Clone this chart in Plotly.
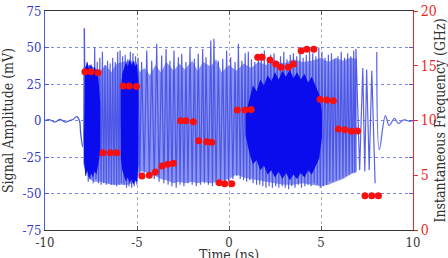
import plotly.graph_objects as go

# ---------------- data ----------------
# quiet signal before and after the burst (ns, mV)
pre_t = [-10.0, -9.73, -9.46, -9.18, -8.91, -8.64, -8.46, -8.28, -8.13, -8.06, -7.95, -7.86]
pre_v = [0.0, 0.5, -1.1, 0.7, -1.1, 0.0, 0.9, 2.7, 0.0, -9.0, -18.0, 63.0]
post_t = [8.03, 8.17, 8.5, 8.7, 9.0, 9.2, 9.5, 9.8, 10.0]
post_v = [47.0, -20.0, 3.4, -3.4, 1.4, -2.0, 0.5, -0.5, 0.0]

# spike tips of the burst: upper tips and the lower tip that follows each (ns, mV)
top_t = [-7.86, -7.72, -7.58, -7.45, -7.30, -7.16, -7.02, -6.88, -6.74, -6.60, -6.46,
         -6.32, -6.18, -6.05, -5.92, -5.78, -5.64, -5.50, -5.36, -5.22, -5.08, -4.94,
         -4.75, -4.47, -4.20, -3.93, -3.66, -3.42, -3.21, -2.99, -2.75, -2.57, -2.34,
         -2.12, -1.88, -1.67, -1.43, -1.25, -0.99, -0.82, -0.58, -0.34, -0.13, 0.09,
         0.33, 0.51, 0.70, 0.88, 1.05, 1.22, 1.40, 1.59, 1.75, 1.92, 2.10, 2.27, 2.45,
         2.62, 2.80, 2.98, 3.15, 3.33, 3.50, 3.68, 3.86, 4.03, 4.20, 4.38, 4.55, 4.72,
         4.88, 5.05, 5.22, 5.40, 5.57, 5.74, 5.92, 6.10, 6.28, 6.45, 6.62, 6.78, 6.90,
         7.27, 7.48, 7.76]
top_v = [63, 40, 38, 37, 50, 40, 43, 47, 38, 41, 39,
         43, 40, 47, 48, 44, 45, 42, 47, 46, 44, 43,
         40, 48, 41, 52.5, 44.5, 49, 41, 48, 43.4, 45.7, 40,
         50, 42.3, 45.7, 49, 43.4, 54.8, 56, 41, 42.3, 48, 43.4,
         40, 52.5, 41, 46, 47, 42, 40, 44, 46, 48, 43, 45, 46,
         41, 44, 47, 42, 45, 46, 44, 48, 43, 45, 48, 46, 44,
         50, 47, 43, 45, 46, 42, 44, 47, 43, 46, 44, 48, 49,
         36, 35, 34]
bot_t = [-7.78, -7.65, -7.52, -7.38, -7.23, -7.09, -6.95, -6.81, -6.67, -6.53, -6.39,
         -6.25, -6.11, -5.98, -5.85, -5.71, -5.57, -5.43, -5.29, -5.15, -5.01, -4.85,
         -4.61, -4.33, -4.06, -3.80, -3.54, -3.31, -3.10, -2.87, -2.66, -2.45, -2.23,
         -2.00, -1.78, -1.55, -1.34, -1.12, -0.90, -0.70, -0.46, -0.23, -0.02, 0.21,
         0.42, 0.61, 0.79, 0.96, 1.13, 1.31, 1.50, 1.67, 1.84, 2.01, 2.18, 2.36, 2.54,
         2.71, 2.89, 3.06, 3.24, 3.41, 3.59, 3.77, 3.94, 4.12, 4.29, 4.46, 4.63, 4.80,
         4.96, 5.13, 5.31, 5.48, 5.65, 5.83, 6.01, 6.19, 6.36, 6.53, 6.70, 6.84, 7.10,
         7.38, 7.62, 7.94]
bot_v = [-38, -42, -40, -43, -40, -43, -44, -43, -44, -43, -44,
         -44, -45, -44, -43, -44, -46, -45, -46, -45, -44, -38,
         -36, -37, -40, -42, -43, -44, -45, -46, -44, -45, -43,
         -44, -45, -44, -43, -44, -45, -44, -42, -43, -42, -40,
         -38, -40, -41, -42, -41, -43, -44, -44, -45, -46, -45, -46, -45,
         -46, -45, -46, -47, -45, -46, -44, -46, -45, -44, -45, -43, -44,
         -46, -45, -44, -42, -42, -41, -40, -39, -38, -37, -36, -36, -34,
         -35, -34, -43]

# light envelope of the burst (ns, mV)
env_t = [-7.92, -7.6, -7.3, -7.0, -6.7, -6.4, -6.1, -5.8, -5.5, -5.0, -4.85, -4.6, -4.3,
         -4.0, -3.7, -3.4, -3.0, -2.7, -2.4, -2.0, -1.7, -1.4, -1.0, -0.7, -0.4, 0.0,
         0.4, 0.8, 1.2, 1.6, 2.0, 2.5, 3.0, 3.5, 4.0, 4.5, 5.0, 5.4, 5.8, 6.2, 6.6, 6.95]
env_hi = [36, 38, 36, 34, 38, 33, 39, 40, 41, 40, 33, 36, 31,
          38, 33, 40, 34, 39, 35, 41, 34, 40, 37, 42, 33, 38,
          34, 39, 36, 40, 38, 41, 39, 42, 40, 41, 43, 40, 43, 41, 43, 42]
env_lo = [-30, -40, -42, -42, -43, -44, -44, -44, -44, -42, -35, -35, -37,
          -38, -40, -41, -43, -42, -43, -42, -43, -42, -43, -42, -41, -40,
          -37, -39, -40, -41, -42, -43, -44, -44, -43, -44, -45, -44, -42, -40, -37, -35]

# dense (dark) parts of the burst (ns, mV)
d1_t = [-7.88, -7.8, -7.7, -7.6, -7.5, -7.4, -7.3, -7.2, -7.1, -7.0]
d1_hi = [42, 36, 40, 35, 39, 34, 37, 32, 30, 12]
d1_lo = [-28, -38, -34, -40, -36, -39, -35, -37, -30, -22]
d2_t = [-5.88, -5.8, -5.7, -5.6, -5.5, -5.4, -5.3, -5.2, -5.1, -5.0, -4.92]
d2_hi = [20, 32, 36, 40, 37, 42, 38, 41, 37, 39, 25]
d2_lo = [-26, -34, -38, -42, -39, -43, -40, -44, -41, -42, -30]
d3_t = [0.9, 1.1, 1.3, 1.5, 1.7, 1.9, 2.1, 2.3, 2.5, 2.7, 2.9, 3.1, 3.3, 3.5, 3.7,
        3.9, 4.1, 4.3, 4.5, 4.7, 4.9, 5.05]
d3_hi = [4, 15, 24, 20, 28, 24, 31, 27, 33, 28, 34, 30, 35, 29, 33, 28, 32, 26, 30, 24, 18, 6]
d3_lo = [-10, -22, -30, -27, -34, -31, -37, -34, -39, -35, -40, -36, -41, -37, -40,
         -36, -39, -34, -37, -32, -26, -12]

# instantaneous frequency (ns, GHz)
freq_t = [-7.83, -7.5, -7.12, -6.85, -6.45, -6.1, -5.75, -5.42, -5.03,
          -4.73, -4.33, -4.0, -3.64, -3.33, -3.03, -2.63, -2.34, -1.94,
          -1.65, -1.21, -0.94, -0.53, -0.23, 0.15, 0.45, 0.87, 1.2,
          1.56, 1.8, 2.23, 2.54, 2.83, 3.23, 3.5, 3.92, 4.23, 4.61,
          4.95, 5.31, 5.67, 5.94, 6.3, 6.66, 6.99, 7.39, 7.76, 8.12]
freq_f = [14.45, 14.45, 14.35, 7.05, 7.05, 7.05, 13.15, 13.15, 13.1,
          4.93, 5.0, 5.3, 5.84, 6.0, 6.09, 9.98, 9.98, 9.89,
          8.16, 8.07, 8.01, 4.32, 4.23, 4.23, 10.96, 10.96, 11.0,
          15.77, 15.77, 15.53, 15.16, 14.86, 14.86, 15.16, 16.37, 16.5, 16.5,
          11.94, 11.87, 11.8, 9.22, 9.16, 9.01, 9.04, 3.13, 3.13, 3.13]

LIGHT = "rgb(140,150,240)"
DARK = "rgb(10,12,238)"
LINE = "rgba(70,80,228,0.9)"
SERIF = "DejaVu Serif Condensed, DejaVu Serif"


def band(t, hi, lo):
    return t + t[::-1], hi + lo[::-1]


def dark(t, hi, lo):
    x, y = band(t, hi, lo)
    return go.Scatter(x=x, y=y, fill="toself", fillcolor=DARK, mode="lines",
                      line=dict(width=0), hoverinfo="skip", showlegend=False)


# interleave upper and lower tips into one zigzag
spike_t, spike_v = [], []
for a, b, c, d in zip(top_t, top_v, bot_t, bot_v):
    spike_t += [a, c]
    spike_v += [b, d]

fig = go.Figure()
bx, by = band(env_t, env_hi, env_lo)
fig.add_trace(go.Scatter(x=bx, y=by, fill="toself", fillcolor=LIGHT, mode="lines",
                         line=dict(width=0), hoverinfo="skip", showlegend=False))
fig.add_trace(go.Scatter(x=spike_t, y=spike_v, mode="lines",
                         line=dict(color=LINE, width=1.2), showlegend=False))
fig.add_trace(dark(d1_t, d1_hi, d1_lo))
fig.add_trace(dark(d2_t, d2_hi, d2_lo))
fig.add_trace(dark(d3_t, d3_hi, d3_lo))
fig.add_trace(go.Scatter(x=pre_t, y=pre_v, mode="lines",
                         line=dict(color="rgb(80,90,225)", width=1.3, shape="spline"),
                         showlegend=False))
fig.add_trace(go.Scatter(x=post_t, y=post_v, mode="lines",
                         line=dict(color="rgb(100,110,230)", width=1.3, shape="spline"),
                         showlegend=False))
fig.add_trace(go.Scatter(x=freq_t, y=freq_f, yaxis="y2", mode="markers",
                         marker=dict(color="rgb(250,15,15)", size=7), showlegend=False))

fig.update_layout(
    width=448, height=258,
    margin=dict(l=45, r=35, t=11, b=28),
    paper_bgcolor="white", plot_bgcolor="white",
    font=dict(family=SERIF, size=14, color="#333"),
    xaxis=dict(range=[-10, 10], tickvals=[-10, -5, 0, 5, 10],
               ticktext=["-10", "-5", "0", "5", "10"],
               showline=True, linecolor="#333", linewidth=1, mirror="ticks",
               ticks="inside", ticklen=4, tickcolor="#555",
               showgrid=True, gridcolor="rgb(175,175,175)", griddash="dot", gridwidth=1,
               zeroline=False, tickfont=dict(family=SERIF, color="#333", size=13),
               automargin=False),
    yaxis=dict(range=[-75, 75], tickvals=[-75, -50, -25, 0, 25, 50, 75],
               ticktext=["-75", "-50", "-25", "0", "25", "50", "75"],
               showline=True, linecolor="rgb(80,90,215)", linewidth=1, mirror="ticks",
               ticks="inside", ticklen=4, tickcolor="rgb(80,90,215)",
               showgrid=True, gridcolor="rgb(125,135,235)", griddash="dot", gridwidth=1,
               zeroline=False, tickfont=dict(family=SERIF, color="rgb(50,55,205)", size=13),
               title=dict(text="Signal Amplitude (mV)",
                          font=dict(family=SERIF, size=14, color="#333"), standoff=6),
               automargin=False),
    yaxis2=dict(range=[0, 20], tickvals=[0, 5, 10, 15, 20],
                overlaying="y", side="right",
                showline=True, linecolor="rgb(240,40,40)", linewidth=1,
                ticks="outside", ticklen=4, tickcolor="rgb(240,40,40)",
                showgrid=False, zeroline=False,
                tickfont=dict(family=SERIF, color="rgb(240,30,30)", size=14),
                title=dict(text="Instantaneous Frequency (GHz)",
                           font=dict(family=SERIF, size=14, color="#333"), standoff=4),
                automargin=False),
    annotations=[dict(text="Time (ns)", xref="paper", yref="paper", x=0.5, y=-0.115,
                      xanchor="center", yanchor="middle", showarrow=False,
                      font=dict(family=SERIF, size=14, color="#333"))],
)

fig.write_html("out.html")
